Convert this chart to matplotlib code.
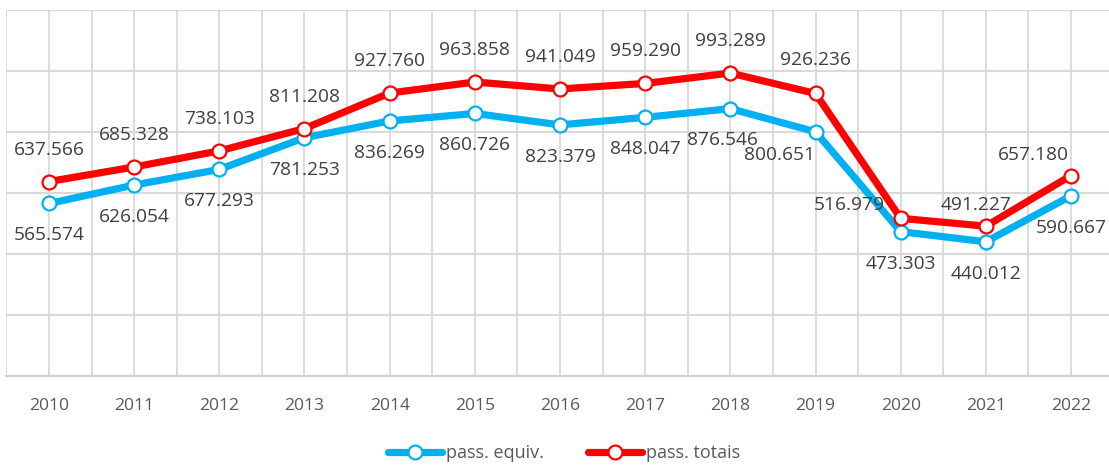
import matplotlib

matplotlib.use("Agg")
import matplotlib.pyplot as plt  # noqa: E402
from matplotlib.ticker import MultipleLocator  # noqa: E402

plt.rcParams["font.family"] = ["Open Sans", "DejaVu Sans"]

years = ["2010", "2011", "2012", "2013", "2014", "2015", "2016",
         "2017", "2018", "2019", "2020", "2021", "2022"]
pass_equiv = [565.574, 626.054, 677.293, 781.253, 836.269, 860.726, 823.379,
              848.047, 876.546, 800.651, 473.303, 440.012, 590.667]
pass_totais = [637.566, 685.328, 738.103, 811.208, 927.760, 963.858, 941.049,
               959.290, 993.289, 926.236, 516.979, 491.227, 657.180]

BLUE = "#00B0F0"
RED = "#FF0000"
GRID = "#D9D9D9"
LABEL = "#404040"
TICK = "#595959"

# label offsets in pixels (dx, dy), Excel-style placement; defaults above/below
red_off = {9: (0, 33), 10: (-51, 13), 11: (-10, 21), 12: (-38, 21)}
blue_off = {8: (-8, -31), 9: (-36, -23)}


def fmt(v):
    return f"{v:.3f}"


fig = plt.figure(figsize=(11.09, 4.69), dpi=100)
ax = fig.add_axes([6.4 / 1109, 93 / 469, 1107.2 / 1109, 366 / 469])

x = list(range(len(years)))
mk = dict(marker="o", markersize=10, markerfacecolor="white", markeredgewidth=1.6)
ax.plot(x, pass_equiv, color=BLUE, lw=5.2, markeredgecolor=BLUE,
        label="pass. equiv.", zorder=4, solid_capstyle="round", **mk)
ax.plot(x, pass_totais, color=RED, lw=5.2, markeredgecolor=RED,
        label="pass. totais", zorder=5, solid_capstyle="round", **mk)

for i, v in enumerate(pass_totais):
    dx, dy = red_off.get(i, (0, 32))
    ax.annotate(fmt(v), (i, v), xytext=(dx, dy), textcoords="offset pixels",
                ha="center", va="center", fontsize=13.8, color=LABEL, zorder=6)
for i, v in enumerate(pass_equiv):
    dx, dy = blue_off.get(i, (0, -32))
    ax.annotate(fmt(v), (i, v), xytext=(dx, dy), textcoords="offset pixels",
                ha="center", va="center", fontsize=13.8, color=LABEL, zorder=6)

ax.set_xlim(-0.5, 12.5)
ax.set_ylim(0, 1200)
ax.set_xticks(x)
ax.set_xticklabels(years)
ax.xaxis.set_minor_locator(MultipleLocator(0.5))
ax.yaxis.set_major_locator(MultipleLocator(200))
ax.set_yticklabels([])
ax.tick_params(axis="both", which="both", length=0)
ax.tick_params(axis="x", labelsize=12.6, labelcolor=TICK, pad=16)
ax.grid(True, which="both", axis="x", color=GRID, lw=1.3, zorder=0)
ax.grid(True, which="major", axis="y", color=GRID, lw=1.5, zorder=0)
for s in ("top", "right", "left"):
    ax.spines[s].set_visible(False)
ax.spines["bottom"].set_color("#D0D0D0")
ax.spines["bottom"].set_linewidth(1.6)
ax.set_axisbelow(True)

leg = fig.legend(loc="center", bbox_to_anchor=(564 / 1109, 1 - 453 / 469), ncol=2,
                 frameon=False, fontsize=13, handlelength=3.0, columnspacing=2.4,
                 handletextpad=0.25, labelcolor=TICK)

fig.savefig("out.png", dpi=100)
